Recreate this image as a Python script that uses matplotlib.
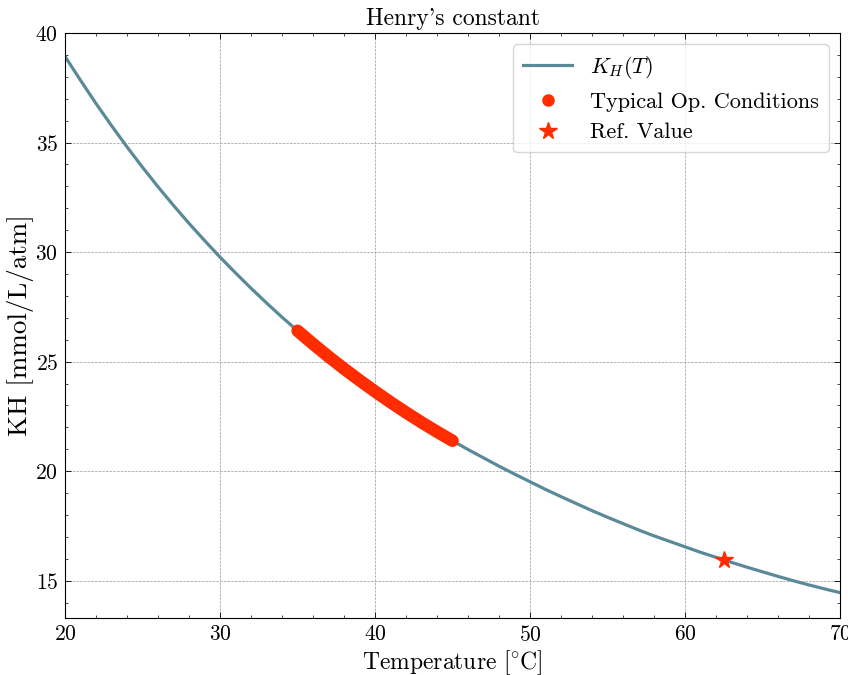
import numpy as np
import matplotlib
matplotlib.use("Agg")
import matplotlib.pyplot as plt
from matplotlib.lines import Line2D
from matplotlib.ticker import MultipleLocator

# ---- Данные (шаг 1 °C) ----
T = list(range(20, 71))
KH = [38.93, 37.84, 36.78, 35.77, 34.80, 33.87, 32.98, 32.13, 31.31, 30.53,
      29.77, 29.05, 28.35, 27.68, 27.03, 26.41, 25.81, 25.23, 24.68, 24.15,
      23.64, 23.15, 22.68, 22.23, 21.80, 21.39, 20.99, 20.61, 20.23, 19.87,
      19.52, 19.17, 18.84, 18.52, 18.20, 17.90, 17.61, 17.32, 17.05, 16.80,
      16.55, 16.30, 16.07, 15.84, 15.62, 15.41, 15.20, 15.00, 14.81, 14.63,
      14.46]

# типичные рабочие условия: 35..45 °C
T_op = T[15:26]
KH_op = KH[15:26]

T_ref = [62.5]
KH_ref = [15.96]

# ---- Стиль ----
plt.rcParams.update({
    "font.family": ["cmr10", "DejaVu Serif"],
    "mathtext.fontset": "cm",
    "axes.formatter.use_mathtext": True,
    "xtick.direction": "in",
    "ytick.direction": "in",
    "xtick.top": True,
    "ytick.right": True,
    "xtick.minor.visible": True,
    "ytick.minor.visible": True,
    "axes.linewidth": 0.8,
})

c_line = "#5a8a98"
c_red = "#ff2c00"

fig = plt.figure(figsize=(8.48, 6.75), dpi=100)
ax = fig.add_axes([0.0767, 0.0844, 0.9139, 0.8667])

ax.plot(T, KH, color=c_line, lw=2.3, zorder=2)
ax.plot(T_op, KH_op, color=c_red, lw=9, solid_capstyle="round", zorder=3)
ax.plot(T_ref, KH_ref, ls="none", marker="*", ms=13, color=c_red, zorder=4)

ax.set_xlim(20, 70)
ax.set_ylim(13.3, 40)
ax.xaxis.set_major_locator(MultipleLocator(10))
ax.xaxis.set_minor_locator(MultipleLocator(2))
ax.yaxis.set_major_locator(MultipleLocator(5))
ax.yaxis.set_minor_locator(MultipleLocator(1))
ax.tick_params(which="major", length=4, width=0.6, labelsize=15.5, pad=5)
ax.tick_params(which="minor", length=2, width=0.5)

ax.grid(True, which="major", ls="--", lw=0.5, color="#999999")

ax.set_title("Henry's constant", fontsize=17, pad=6)
ax.set_xlabel(r"Temperature [$\!^\circ\!$C]", fontsize=17, labelpad=2)
ax.set_ylabel("KH [mmol/L/atm]", fontsize=19.5, labelpad=1)

handles = [
    Line2D([], [], color=c_line, lw=2.3),
    Line2D([], [], ls="none", marker="o", ms=8, color=c_red),
    Line2D([], [], ls="none", marker="*", ms=13, color=c_red),
]
labels = [r"$K_H(T)$", "Typical Op. Conditions", "Ref. Value"]
ax.legend(handles, labels, loc="upper right", fontsize=16,
          handlelength=2.2, borderpad=0.45, labelspacing=0.5)

fig.savefig("out.png", dpi=100)
